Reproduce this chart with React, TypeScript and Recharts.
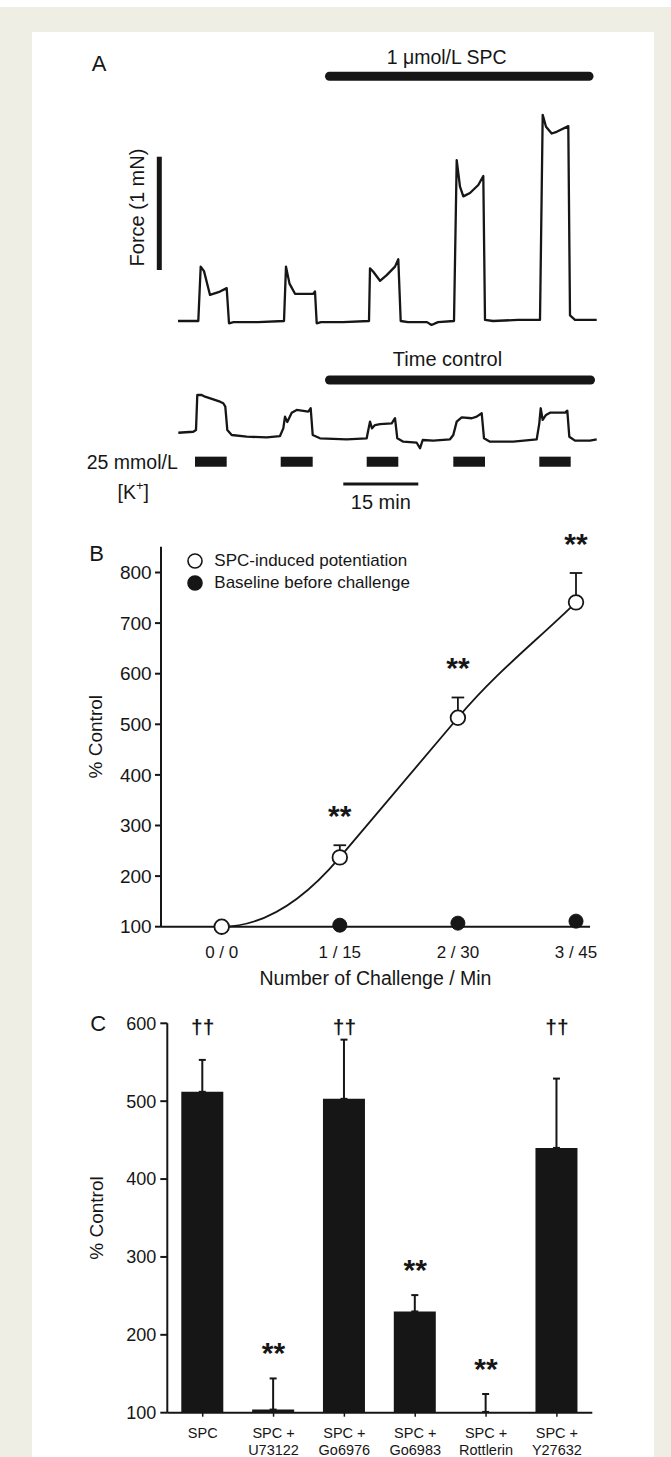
import React from 'react';
import {
  LineChart,
  ComposedChart,
  Line,
  Bar,
  XAxis,
  YAxis,
  ErrorBar,
  LabelList,
  Legend,
  ReferenceLine,
  ReferenceArea,
} from 'recharts';

const FONT = '"Liberation Sans", Arial, Helvetica, sans-serif';
const INK = '#161616';
const BEIGE = '#eeeee5';

// ---------- Panel A: force traces, [minutes, mN] ----------
const spcTrace: [number, number][] = [
  [0, 0], [2, 0], [4.06, 0], [4.54, 0.48], [5.2, 0.44], [6.4, 0.23], [8.4, 0.26], [9.74, 0.29],
  [10.2, -0.02], [11.1, -0.01], [16, -0.01], [21.2, 0],
  [21.6, 0.48], [22.3, 0.33], [23.4, 0.24], [27.06, 0.24], [27.4, 0.26], [27.74, -0.02],
  [28.6, -0.01], [33, -0.01], [38.2, 0],
  [38.4, 0.465], [39.06, 0.435], [40.4, 0.355], [41.74, 0.405], [43.4, 0.48], [44.06, 0.545],
  [44.54, 0], [46, -0.01], [49.8, -0.01], [50.7, -0.035], [52, -0.01], [55.2, 0],
  [55.74, 1.42], [56.4, 1.185], [57.06, 1.1], [58.4, 1.13], [60.06, 1.2], [61.06, 1.28],
  [61.4, 0.01], [63, 0], [68, 0.01], [72.4, 0.01],
  [72.94, 1.82], [73.6, 1.715], [74.74, 1.655], [75.74, 1.67], [78.06, 1.72],
  [78.4, 0.05], [79.4, 0.01], [83.74, 0.01],
];

const timeControlTrace: [number, number][] = [
  [0.06, 0.064], [3.06, 0.073], [3.6, 0.088], [3.86, 0.397], [4.74, 0.397], [5.4, 0.382],
  [7.06, 0.359], [8.4, 0.338], [9.06, 0.324], [9.46, 0.294], [9.86, 0.088], [10.74, 0.044],
  [13.74, 0.029], [17.74, 0.024], [20.4, 0.035],
  [21.06, 0.103], [21.4, 0.206], [21.86, 0.159], [22.74, 0.241], [23.74, 0.265], [26.06, 0.25],
  [26.54, 0.28], [26.94, 0.044], [28.4, 0.015], [33.74, 0.006], [37.74, 0.015],
  [38.06, 0.088], [38.4, 0.162], [38.8, 0.103], [39.4, 0.132], [40.4, 0.141], [42.74, 0.147],
  [43.4, 0.192], [43.86, 0.015], [45.06, -0.015], [47.74, -0.024], [48.4, -0.073], [48.94, 0],
  [51.06, -0.006], [54.4, 0.006],
  [55.06, 0.044], [55.74, 0.162], [56.74, 0.2], [58.74, 0.192], [59.74, 0.206], [60.74, 0.236],
  [61.2, 0.015], [62.4, -0.015], [67.06, -0.015], [71.74, 0.006],
  [72.26, 0.147], [72.54, 0.28], [72.94, 0.177], [73.6, 0.221], [74.4, 0.241], [77.4, 0.241],
  [77.86, 0.259], [78.26, 0.029], [79.4, -0.006], [82.4, -0.006], [83.74, 0.006],
];

// 25 mmol/L K+ applications, [on, off] in minutes
const kPulses: [number, number][] = [
  [3.4, 9.74], [20.54, 26.94], [37.74, 44.06], [55.06, 61.4], [72.26, 78.54],
];
const spcExposure: [number, number] = [30.3, 82.2];
const timeControlExposure: [number, number] = [30.3, 82.5];
const forceScaleMN = 1;
const timeScaleMin = 15;

// ---------- Panel B ----------
const challengeLabels = ['0 / 0', '1 / 15', '2 / 30', '3 / 45'];
const spcPotentiation = [100, 237, 513, 741];
const spcPotentiationSem = [0, 24, 40, 58];
const baselineBefore = [100, 103, 107, 111];
const challengeMarks = ['', '**', '**', '**'];
const SPC_NAME = 'SPC-induced potentiation';
const BASE_NAME = 'Baseline before challenge';
const legendOrder = [SPC_NAME, BASE_NAME];

// ---------- Panel C ----------
const treatmentLabels = [
  'SPC', 'SPC + U73122', 'SPC + Go6976', 'SPC + Go6983', 'SPC + Rottlerin', 'SPC + Y27632',
];
const treatmentMean = [512, 104, 503, 230, 101, 440];
const treatmentSem = [41, 40, 76, 21, 23, 89];
const treatmentMarks = ['††', '**', '††', '**', '**', '††'];

// ---------- layout of panel A ----------
const A_LEFT = 80;
const A_WIDTH = 520;
const PX_PER_MIN = 5;
const PX_PER_MN = 113.3;
const T0_X = 178;
const tDomain: [number, number] = [
  (A_LEFT - T0_X) / PX_PER_MIN,
  (A_LEFT + A_WIDTH - T0_X) / PX_PER_MIN,
];
const fDomain = (top: number, height: number, zeroY: number): [number, number] => [
  (zeroY - top - height) / PX_PER_MN,
  (zeroY - top) / PX_PER_MN,
];

const SPC_BAR_LEVEL = 2.16;
const FORCE_BAR_T = -3.74;
const FORCE_BAR_BASE = 0.45;
const TC_BAR_LEVEL = 0.53;
const K_BAR: [number, number] = [-0.236, -0.147];
const TIME_BAR_T = 33.06;
const TIME_BAR_LEVEL = -0.388;

// smooth fitted-looking curve: flat start, steeper-secant tangents inside
function fitCurve(context: any) {
  let xs: number[] = [];
  let ys: number[] = [];
  return {
    areaStart() {},
    areaEnd() {},
    lineStart() {
      xs = [];
      ys = [];
    },
    lineEnd() {
      const n = xs.length;
      if (!n) return;
      context.moveTo(xs[0], ys[0]);
      if (n === 1) return;
      const s: number[] = [];
      for (let i = 0; i < n - 1; i++) s.push((ys[i + 1] - ys[i]) / (xs[i + 1] - xs[i]));
      const m = xs.map((_, i) => {
        if (i === 0) return 0;
        if (i === n - 1) return s[i - 1];
        return Math.abs(s[i - 1]) > Math.abs(s[i]) ? s[i - 1] : s[i];
      });
      for (let i = 0; i < n - 1; i++) {
        const h = xs[i + 1] - xs[i];
        context.bezierCurveTo(
          xs[i] + h / 3,
          ys[i] + (m[i] * h) / 3,
          xs[i + 1] - h / 3,
          ys[i + 1] - (m[i + 1] * h) / 3,
          xs[i + 1],
          ys[i + 1],
        );
      }
    },
    point(x: number, y: number) {
      xs.push(+x);
      ys.push(+y);
    },
  };
}

function TraceChart({ top, height, zeroY, trace, children }: any) {
  const data = trace.map(([t, f]: [number, number]) => ({ t, f }));
  return (
    <div style={{ position: 'absolute', left: A_LEFT, top }}>
      <LineChart width={A_WIDTH} height={height} data={data} margin={{ top: 0, right: 0, bottom: 0, left: 0 }}>
        <XAxis type="number" dataKey="t" domain={tDomain} hide allowDataOverflow />
        <YAxis type="number" domain={fDomain(top, height, zeroY)} hide allowDataOverflow />
        {children}
        <Line
          type="linear"
          dataKey="f"
          stroke={INK}
          strokeWidth={2.3}
          strokeLinejoin="round"
          dot={false}
          activeDot={false}
          isAnimationActive={false}
        />
      </LineChart>
    </div>
  );
}

function PanelA() {
  return (
    <>
      <TraceChart top={30} height={300} zeroY={321} trace={spcTrace}>
        <ReferenceLine
          segment={[{ x: spcExposure[0], y: SPC_BAR_LEVEL }, { x: spcExposure[1], y: SPC_BAR_LEVEL }]}
          stroke={INK}
          strokeWidth={9}
          strokeLinecap="round"
        />
        <ReferenceLine
          segment={[
            { x: FORCE_BAR_T, y: FORCE_BAR_BASE },
            { x: FORCE_BAR_T, y: FORCE_BAR_BASE + forceScaleMN },
          ]}
          stroke={INK}
          strokeWidth={5}
        />
      </TraceChart>
      <TraceChart top={340} height={190} zeroY={440} trace={timeControlTrace}>
        <ReferenceLine
          segment={[
            { x: timeControlExposure[0], y: TC_BAR_LEVEL },
            { x: timeControlExposure[1], y: TC_BAR_LEVEL },
          ]}
          stroke={INK}
          strokeWidth={9}
          strokeLinecap="round"
        />
        {kPulses.map(([on, off], i) => (
          <ReferenceArea
            key={i}
            x1={on}
            x2={off}
            y1={K_BAR[0]}
            y2={K_BAR[1]}
            fill={INK}
            fillOpacity={1}
            stroke="none"
          />
        ))}
        <ReferenceLine
          segment={[
            { x: TIME_BAR_T, y: TIME_BAR_LEVEL },
            { x: TIME_BAR_T + timeScaleMin, y: TIME_BAR_LEVEL },
          ]}
          stroke={INK}
          strokeWidth={3}
        />
      </TraceChart>
    </>
  );
}

// significance marks drawn above the error-bar caps
const markContent = (daggerY: number, gap: number) => (props: any) => {
  const vb = props.viewBox || {};
  const x = props.x ?? vb.x;
  const y = props.y ?? vb.y;
  const value = props.value;
  if (!value || x == null || y == null) return null;
  if (value === '††') {
    return (
      <text x={x} y={daggerY + 6} textAnchor="middle" fontSize={21} fontWeight="bold" fill={INK}>
        {value}
      </text>
    );
  }
  return (
    <text x={x} y={y - gap + 17} textAnchor="middle" fontSize={30} fontWeight="bold" fill={INK}>
      {value}
    </text>
  );
};

function ChallengeLegend(props: any) {
  const items = [...(props.payload || [])]
    .filter((p: any) => legendOrder.includes(p.value))
    .sort((a: any, b: any) => legendOrder.indexOf(a.value) - legendOrder.indexOf(b.value));
  return (
    <div style={{ fontSize: 17, color: INK, fontFamily: FONT }}>
      {items.map((p: any) => (
        <div key={p.value} style={{ display: 'flex', alignItems: 'center', height: 22 }}>
          <svg width={16} height={16} style={{ marginRight: 11.3, flex: 'none' }}>
            <circle
              cx={8}
              cy={8}
              r={7}
              fill={p.value === SPC_NAME ? '#fff' : INK}
              stroke={INK}
              strokeWidth={1.6}
            />
          </svg>
          <span style={{ whiteSpace: 'nowrap' }}>{p.value}</span>
        </div>
      ))}
    </div>
  );
}

function PanelB() {
  const data = challengeLabels.map((name, i) => ({
    name,
    spc: spcPotentiation[i],
    spcErr: [0, spcPotentiationSem[i]],
    base: baselineBefore[i],
    cap: spcPotentiation[i] + spcPotentiationSem[i],
    mark: challengeMarks[i],
  }));
  return (
    <div style={{ position: 'absolute', left: 80, top: 520 }}>
      <ComposedChart width={520} height={470} data={data} margin={{ top: 26.7, right: 10, bottom: 0, left: 0 }}>
        <XAxis
          dataKey="name"
          interval={0}
          padding={{ left: 60.7, right: 14 }}
          height={63.3}
          tickLine={false}
          tickSize={0}
          tickMargin={19}
          axisLine={{ stroke: INK, strokeWidth: 2 }}
          tick={{ fill: INK, fontSize: 17 }}
          label={{ value: 'Number of Challenge / Min', position: 'insideBottom', offset: 4.8, fill: INK, fontSize: 19.5 }}
        />
        <YAxis
          type="number"
          domain={[100, 851]}
          ticks={[100, 200, 300, 400, 500, 600, 700, 800]}
          width={81}
          tickSize={6}
          tickMargin={3.3}
          axisLine={{ stroke: INK, strokeWidth: 2 }}
          tickLine={{ stroke: INK, strokeWidth: 2 }}
          tick={{ fill: INK, fontSize: 19 }}
          label={{
            value: '% Control',
            angle: -90,
            position: 'insideLeft',
            offset: 15,
            fill: INK,
            fontSize: 19,
            style: { textAnchor: 'middle' },
          }}
        />
        <Legend
          layout="vertical"
          align="center"
          verticalAlign="middle"
          content={ChallengeLegend}
          wrapperStyle={{ left: 107, top: 29.7, width: 'auto', height: 'auto' }}
        />
        <Line
          dataKey="base"
          name={BASE_NAME}
          stroke="none"
          dot={{ r: 7, fill: INK, stroke: INK, strokeWidth: 1 }}
          activeDot={false}
          isAnimationActive={false}
        />
        <Line
          dataKey="spc"
          name={SPC_NAME}
          type={fitCurve as any}
          stroke={INK}
          strokeWidth={1.8}
          dot={{ r: 7.3, fill: '#fff', stroke: INK, strokeWidth: 1.8 }}
          activeDot={false}
          isAnimationActive={false}
        >
          <ErrorBar dataKey="spcErr" direction="y" width={6.3} strokeWidth={1.8} stroke={INK} />
        </Line>
        <Line
          dataKey="cap"
          stroke="none"
          dot={false}
          activeDot={false}
          legendType="none"
          isAnimationActive={false}
        >
          <LabelList dataKey="mark" content={markContent(0, 36)} />
        </Line>
      </ComposedChart>
    </div>
  );
}

function TreatmentTick(props: any) {
  const { x, y, payload } = props;
  const parts = String(payload.value).split(' + ');
  const lines = parts.length > 1 ? [parts[0] + ' +', parts[1]] : parts;
  return (
    <text x={x} y={y} textAnchor="middle" fill={INK} fontSize={14.5}>
      {lines.map((s, i) => (
        <tspan key={i} x={x} dy={i === 0 ? '0.71em' : 17}>
          {s}
        </tspan>
      ))}
    </text>
  );
}

function PanelC() {
  const data = treatmentLabels.map((name, i) => ({
    name,
    mean: treatmentMean[i],
    err: [0, treatmentSem[i]],
    cap: treatmentMean[i] + treatmentSem[i],
    mark: treatmentMarks[i],
  }));
  return (
    <div style={{ position: 'absolute', left: 80, top: 990 }}>
      <ComposedChart width={520} height={467} data={data} margin={{ top: 33.3, right: 7.7, bottom: 0, left: 0 }}>
        <XAxis
          dataKey="name"
          interval={0}
          height={44.3}
          tickSize={4}
          tickMargin={11}
          axisLine={{ stroke: INK, strokeWidth: 2 }}
          tickLine={{ stroke: INK, strokeWidth: 1.5 }}
          tick={<TreatmentTick />}
        />
        <YAxis
          type="number"
          domain={[100, 600]}
          ticks={[100, 200, 300, 400, 500, 600]}
          width={87.3}
          tickSize={7}
          tickMargin={4}
          axisLine={{ stroke: INK, strokeWidth: 2 }}
          tickLine={{ stroke: INK, strokeWidth: 2 }}
          tick={{ fill: INK, fontSize: 18 }}
          label={{
            value: '% Control',
            angle: -90,
            position: 'insideLeft',
            offset: 16,
            fill: INK,
            fontSize: 19,
            style: { textAnchor: 'middle' },
          }}
        />
        <Bar dataKey="mean" fill={INK} barSize={42} isAnimationActive={false}>
          <ErrorBar dataKey="err" direction="y" width={3.5} strokeWidth={2} stroke={INK} />
        </Bar>
        <Line
          dataKey="cap"
          stroke="none"
          dot={false}
          activeDot={false}
          legendType="none"
          isAnimationActive={false}
        >
          <LabelList dataKey="mark" content={markContent(38.3, 32)} />
        </Line>
      </ComposedChart>
    </div>
  );
}

function Note({ x, y, size = 20, anchor = 'middle', rotate = 0, children }: any) {
  return (
    <text
      x={x}
      y={y}
      fontSize={size}
      textAnchor={anchor}
      dominantBaseline="central"
      transform={rotate ? `rotate(${rotate} ${x} ${y})` : undefined}
    >
      {children}
    </text>
  );
}

function Annotations() {
  return (
    <svg
      width={671}
      height={1457}
      style={{ position: 'absolute', left: 0, top: 0, pointerEvents: 'none' }}
      fontFamily={FONT}
      fill={INK}
    >
      <Note x={99} y={63.3} size={22}>A</Note>
      <Note x={446.7} y={56.7} size={19.5}>1 μmol/L SPC</Note>
      <Note x={136.7} y={207.5} size={20} rotate={-90}>Force (1 mN)</Note>
      <Note x={447.5} y={359.3} size={20}>Time control</Note>
      <Note x={86.7} y={461.7} size={19.5} anchor="start">25 mmol/L</Note>
      <text x={133.3} y={491.7} fontSize={19.5} textAnchor="middle" dominantBaseline="central">
        [K<tspan dy={-7} fontSize={13}>+</tspan>
        <tspan dy={7}>]</tspan>
      </text>
      <Note x={380.8} y={501.7} size={20}>15 min</Note>
      <Note x={96.7} y={553.3} size={22}>B</Note>
      <Note x={98.3} y={1023.3} size={22}>C</Note>
    </svg>
  );
}

export default function App() {
  return (
    <div
      style={{
        position: 'absolute',
        left: 0,
        top: 0,
        width: 671,
        height: 1457,
        overflow: 'hidden',
        background: '#fff',
        fontFamily: FONT,
        color: INK,
      }}
    >
      <div style={{ position: 'absolute', left: 0, top: 6.7, width: 671, height: 1451, background: BEIGE }} />
      <div style={{ position: 'absolute', left: 31.7, top: 31.7, width: 622.3, height: 1430, background: '#fff' }} />
      <PanelA />
      <PanelB />
      <PanelC />
      <Annotations />
    </div>
  );
}
